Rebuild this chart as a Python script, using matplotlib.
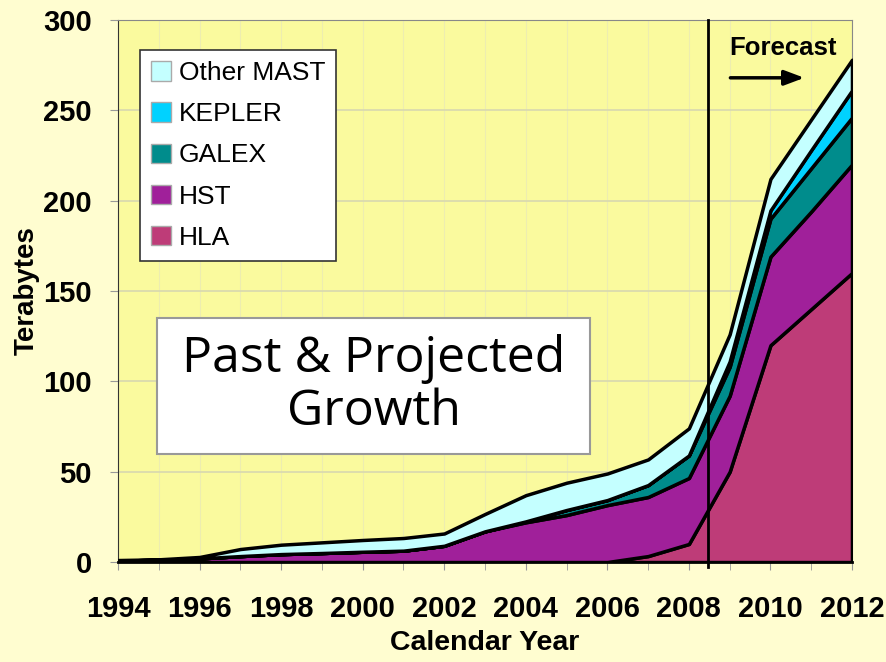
import matplotlib
matplotlib.use("Agg")
import matplotlib.pyplot as plt
from matplotlib.patches import Patch, Rectangle
from matplotlib.ticker import MultipleLocator

years = list(range(1994, 2013))
hla = [0, 0, 0, 0, 0, 0, 0, 0, 0, 0, 0, 0, 0, 3.3, 10, 50, 120, 140, 160]
hst = [0.8, 1.2, 2, 3.3, 4.4, 5, 5.7, 6.3, 9, 17, 22, 26, 31.5, 32.7, 36.5, 42, 49, 54, 60]
galex = [0, 0, 0, 0, 0, 0, 0, 0, 0, 0, 0.5, 2.8, 2.8, 6.6, 12.5, 16, 21, 24, 26]
kepler = [0, 0, 0, 0, 0, 0, 0, 0, 0, 0, 0, 0, 0, 0, 0, 3, 4.6, 10, 15]
other = [0.3, 0.3, 0.8, 3.9, 5.2, 5.9, 6.5, 7, 6.8, 9.6, 14.5, 15.1, 14.7, 14.2, 15, 15, 17.4, 17, 17]

labels = ["HLA", "HST", "GALEX", "KEPLER", "Other MAST"]
colors = ["#BE3C78", "#A0209A", "#008C8C", "#00D2FF", "#C4FFFF"]
forecast_start = 2008.47

arial = ["Liberation Sans", "DejaVu Sans"]


def main():
    fig = plt.figure(figsize=(8.86, 6.62), dpi=100, facecolor="#FFFDD0")
    ax = fig.add_axes([0.1332, 0.151, 0.8284, 0.8188])
    ax.set_facecolor("#FAFA9E")

    ax.stackplot(years, hla, hst, galex, kepler, other, colors=colors,
                 edgecolor="black", linewidth=2.5, zorder=3)

    ax.set_xlim(1994, 2012)
    ax.set_ylim(0, 300)

    ax.xaxis.set_major_locator(MultipleLocator(2))
    ax.xaxis.set_minor_locator(MultipleLocator(1))
    ax.yaxis.set_major_locator(MultipleLocator(50))
    ax.grid(axis="y", which="major", color="#D8D8B0", linewidth=1.2, zorder=0)
    ax.grid(axis="x", which="both", color="#EDEDB0", linewidth=0.8, zorder=0)

    ax.tick_params(axis="both", which="both", length=6, color="#999999")
    ax.tick_params(axis="x", which="major", pad=18)
    ax.tick_params(axis="y", which="major", pad=13)
    for lab in ax.get_xticklabels() + ax.get_yticklabels():
        lab.set_family(arial)
        lab.set_fontsize(21)
        lab.set_fontweight("bold")

    for side in ["top", "right"]:
        ax.spines[side].set_color("#888888")
    ax.spines["left"].set_color("#333333")
    ax.spines["bottom"].set_color("black")
    ax.spines["bottom"].set_linewidth(2)

    ax.set_xlabel("Calendar Year", family=arial, fontsize=20.5,
                  fontweight="bold", labelpad=5)
    ax.set_ylabel("Terabytes", family=arial, fontsize=20,
                  fontweight="bold", labelpad=2)

    ax.axvline(forecast_start, ymin=-0.01, ymax=1, color="black",
               linewidth=2, zorder=5, clip_on=False)

    ax.text(2010.3, 284.5, "Forecast", ha="center", va="center",
            fontsize=18.5, fontweight="bold", family=arial, zorder=6)
    ax.annotate("", xy=(2010.9, 268), xytext=(2008.95, 268),
                arrowprops=dict(arrowstyle="-|>,head_length=1.2,head_width=0.45",
                                color="black", lw=2.5), zorder=6)

    ax.add_patch(Rectangle((1994.96, 59.8), 10.61, 75.2, facecolor="white",
                           edgecolor="#999999", linewidth=1.5, zorder=4))
    ax.text(2000.27, 97.5, "Past & Projected\nGrowth", ha="center",
            va="center", fontsize=36, family="Open Sans", linespacing=1.1,
            zorder=5)

    handles = [Patch(facecolor=c, edgecolor="#AAAAAA", label=l)
               for c, l in zip(colors, labels)][::-1]
    leg = ax.legend(handles=handles, loc="upper left",
                    bbox_to_anchor=(140 / 886, 1 - 50 / 662),
                    bbox_transform=fig.transFigure,
                    prop={"family": arial, "size": 19},
                    frameon=True, fancybox=False, framealpha=1,
                    edgecolor="#333333", handlelength=0.75, handleheight=0.75,
                    handletextpad=0.3, labelspacing=0.65, borderpad=0.42,
                    borderaxespad=0)
    leg.get_frame().set_linewidth(1.2)
    leg.set_zorder(7)

    fig.savefig("out.png", dpi=100, facecolor=fig.get_facecolor())


if __name__ == "__main__":
    main()
